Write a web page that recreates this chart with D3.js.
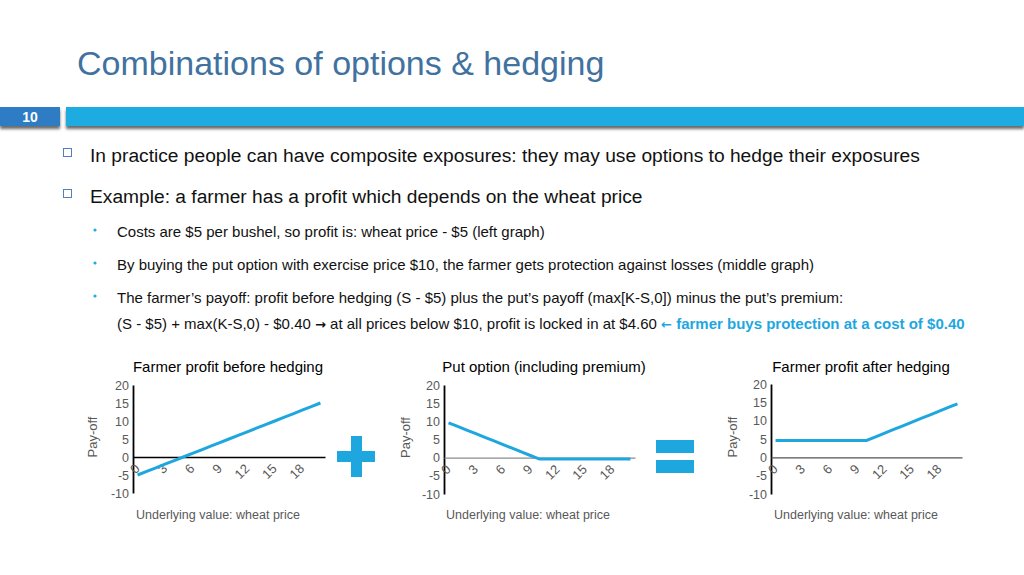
<!DOCTYPE html>
<html>
<head>
<meta charset="utf-8">
<script src="https://cdn.jsdelivr.net/npm/d3@7"></script>
<style>
  body { margin: 0; background: #fff; }
  svg { display: block; font-family: "Liberation Sans", Arial, sans-serif; }
</style>
</head>
<body>
<svg id="slide" width="1024" height="575"></svg>
<script>
// wheat price S (categories on the x axis)
const prices = [0, 1, 2, 3, 4, 5, 6, 7, 8, 9, 10, 11, 12, 13, 14, 15, 16, 17, 18, 19, 20];
// farmer profit before hedging: S - 5
const profitBefore = [-5, -4, -3, -2, -1, 0, 1, 2, 3, 4, 5, 6, 7, 8, 9, 10, 11, 12, 13, 14, 15];
// put option payoff incl. premium: max(10 - S, 0) - 0.4
const putPayoff = [9.6, 8.6, 7.6, 6.6, 5.6, 4.6, 3.6, 2.6, 1.6, 0.6, -0.4, -0.4, -0.4, -0.4, -0.4, -0.4, -0.4, -0.4, -0.4, -0.4, -0.4];
// farmer profit after hedging
const profitAfter = [4.6, 4.6, 4.6, 4.6, 4.6, 4.6, 4.6, 4.6, 4.6, 4.6, 4.6, 5.6, 6.6, 7.6, 8.6, 9.6, 10.6, 11.6, 12.6, 13.6, 14.6];

const xTickLabels = [0, 3, 6, 9, 12, 15, 18];
const yTickLabels = [-10, -5, 0, 5, 10, 15, 20];
const chartTitles = ["Farmer profit before hedging", "Put option (including premium)", "Farmer profit after hedging"];

const svg = d3.select("#slide");

// slide title
svg.append("text")
  .attr("x", 77).attr("y", 75)
  .attr("font-size", 34)
  .attr("fill", "#41729f")
  .text("Combinations of options & hedging");

// header band with shadow
const shadow = svg.append("defs").append("filter").attr("id", "bar-shadow")
  .attr("x", "-5%").attr("y", "-50%").attr("width", "110%").attr("height", "200%");
shadow.append("feDropShadow")
  .attr("dx", 0).attr("dy", 3).attr("stdDeviation", 1.5)
  .attr("flood-color", "#444").attr("flood-opacity", 0.8);

svg.append("rect").attr("x", 0).attr("y", 107).attr("width", 60).attr("height", 19)
  .attr("fill", "#2e7cc4").style("filter", "url(#bar-shadow)");
svg.append("rect").attr("x", 66).attr("y", 107).attr("width", 958).attr("height", 19)
  .attr("fill", "#1eace2").style("filter", "url(#bar-shadow)");
svg.append("text").attr("x", 30).attr("y", 121.5)
  .attr("text-anchor", "middle").attr("font-size", 14).attr("font-weight", "bold")
  .attr("fill", "#fff").text("10");

// main bullets
const mainBullets = [
  { y: 162, text: "In practice people can have composite exposures: they may use options to hedge their exposures" },
  { y: 203, text: "Example: a farmer has a profit which depends on the wheat price" }
];
mainBullets.forEach((b) => {
  svg.append("rect").attr("x", 63.5).attr("y", b.y - 13.5).attr("width", 8).attr("height", 8)
    .attr("fill", "none").attr("stroke", "#4f81bd").attr("stroke-width", 1);
  svg.append("text").attr("x", 90).attr("y", b.y)
    .attr("font-size", 19.2).attr("fill", "#111").text(b.text);
});

// sub bullets
const subBullets = [
  { y: 237, text: "Costs are $5 per bushel, so profit is: wheat price - $5 (left graph)" },
  { y: 270, text: "By buying the put option with exercise price $10, the farmer gets protection against losses (middle graph)" },
  { y: 303, text: "The farmer\u2019s payoff: profit before hedging (S - $5) plus the put\u2019s payoff (max[K-S,0]) minus the put\u2019s premium:" }
];
subBullets.forEach((b) => {
  svg.append("circle").attr("cx", 95).attr("cy", b.y - 7).attr("r", 1.6).attr("fill", "#1eace2");
  svg.append("text").attr("x", 117).attr("y", b.y)
    .attr("font-size", 15).attr("fill", "#111").text(b.text);
});
const lastLine = svg.append("text").attr("x", 117).attr("y", 329).attr("font-size", 15).attr("fill", "#111");
lastLine.append("tspan").text("(S - $5) + max(K-S,0) - $0.40 ");
lastLine.append("tspan").attr("font-family", "DejaVu Sans").attr("font-weight", "bold").attr("font-size", 13).text("\u2192");
lastLine.append("tspan").text(" at all prices below $10, profit is locked in at $4.60 ");
lastLine.append("tspan").attr("fill", "#1ea7df").attr("font-family", "DejaVu Sans").attr("font-weight", "bold")
  .attr("font-size", 13).text("\u2190");
lastLine.append("tspan").attr("fill", "#1ea7df").attr("font-weight", "bold")
  .text(" farmer buys protection at a cost of $0.40");

// charts
const charts = [
  { series: profitBefore, left: 133, right: 325, top: 385, bottom: 493, zeroColor: "#000", titleX: 228, yLabelX: 97, xLabelX: 218 },
  { series: putPayoff, left: 444, right: 635, top: 385, bottom: 494, zeroColor: "#8c8c8c", titleX: 544, yLabelX: 410, xLabelX: 528 },
  { series: profitAfter, left: 771, right: 962, top: 384, bottom: 494, zeroColor: "#555", titleX: 861, yLabelX: 737, xLabelX: 856 }
];

charts.forEach((c, i) => {
  const g = svg.append("g");

  const x = d3.scaleBand().domain(prices).range([c.left, c.right]).padding(0);
  const y = d3.scaleLinear().domain([-10, 20]).range([c.bottom, c.top]);
  const px = (d) => x(d) + x.bandwidth() / 2;

  g.append("text").attr("x", c.titleX).attr("y", 372)
    .attr("text-anchor", "middle").attr("font-size", 15).attr("fill", "#000")
    .text(chartTitles[i]);

  // y axis
  const yAxis = g.append("g")
    .attr("transform", `translate(${c.left},0)`)
    .call(d3.axisLeft(y).tickValues(yTickLabels).tickSize(0).tickPadding(4).tickFormat((d) => String(d)));
  yAxis.select(".domain").attr("stroke", "#000").attr("stroke-width", 1.8);
  yAxis.selectAll("text")
    .attr("font-family", "Liberation Sans, Arial, sans-serif")
    .attr("font-size", 12.5).attr("fill", "#595959");

  // x axis on the zero line
  const xAxis = g.append("g")
    .attr("transform", `translate(0,${y(0)})`)
    .call(d3.axisBottom(x).tickValues(xTickLabels).tickSize(0).tickSizeOuter(0));
  xAxis.select(".domain").attr("stroke", c.zeroColor).attr("stroke-width", 1.3);
  xAxis.selectAll("text")
    .attr("font-family", "Liberation Sans, Arial, sans-serif")
    .attr("font-size", 13).attr("fill", "#595959")
    .attr("text-anchor", "end")
    .attr("x", 0).attr("y", 0).attr("dy", 0)
    .attr("transform", "translate(3,12.5) rotate(-45)");

  // payoff line
  const line = d3.line().x((d, j) => px(prices[j])).y((d) => y(d));
  g.append("path").datum(c.series)
    .attr("fill", "none").attr("stroke", "#1ea7df").attr("stroke-width", 3)
    .attr("d", line);

  // axis titles
  g.append("text")
    .attr("transform", `translate(${c.yLabelX},${(c.top + c.bottom) / 2 - 2}) rotate(-90)`)
    .attr("text-anchor", "middle").attr("font-size", 13).attr("fill", "#595959")
    .text("Pay-off");
  g.append("text").attr("x", c.xLabelX).attr("y", 519)
    .attr("text-anchor", "middle").attr("font-size", 12.5).attr("fill", "#595959")
    .text("Underlying value: wheat price");
});

// plus and equals signs between charts
svg.append("path")
  .attr("d", "M351,436 H362 V451 H375 V462 H362 V477 H351 V462 H337 V451 H351 Z")
  .attr("fill", "#1ea7df");
svg.append("rect").attr("x", 656).attr("y", 440).attr("width", 38).attr("height", 13).attr("fill", "#1ea7df");
svg.append("rect").attr("x", 656).attr("y", 460).attr("width", 38).attr("height", 13).attr("fill", "#1ea7df");
</script>
</body>
</html>
